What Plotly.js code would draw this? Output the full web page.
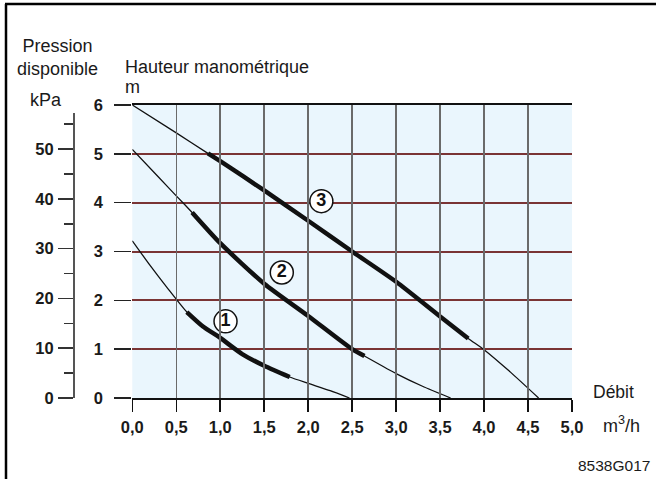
<!DOCTYPE html>
<html><head><meta charset="utf-8">
<script src="https://cdn.plot.ly/plotly-3.0.1.min.js"></script>
<style>html,body{margin:0;padding:0;background:#fff}#chart{width:656px;height:479px}</style>
</head><body><div id="chart"></div>
<script>
// ---- data ----
const curve1X = [0, 0.2, 0.4, 0.62, 0.8, 1.0, 1.25, 1.5, 1.79, 2.0, 2.25, 2.47];
const curve1Y = [3.22, 2.72, 2.25, 1.76, 1.47, 1.23, 0.9, 0.66, 0.43, 0.3, 0.15, 0];
const curve1Range = [0.62, 1.79];

const curve2X = [0, 0.3, 0.5, 0.68, 1.0, 1.5, 2.0, 2.5, 2.64, 3.0, 3.3, 3.62];
const curve2Y = [5.09, 4.52, 4.14, 3.8, 3.17, 2.34, 1.68, 1.0, 0.86, 0.5, 0.24, 0];
const curve2Range = [0.68, 2.64];

const curve3X = [0, 0.5, 0.86, 1.0, 1.5, 2.0, 2.5, 3.0, 3.5, 3.82, 4.0, 4.3, 4.62];
const curve3Y = [6.0, 5.43, 5.01, 4.85, 4.25, 3.63, 3.0, 2.38, 1.67, 1.22, 0.99, 0.53, 0];
const curve3Range = [0.86, 3.82];

const curveNames = ['1', '2', '3'];
const labelX = [1.06, 1.70, 2.15];
const labelY = [1.57, 2.57, 4.03];

const xTickVals = [0, 0.5, 1, 1.5, 2, 2.5, 3, 3.5, 4, 4.5, 5];
const mTickVals = [0, 1, 2, 3, 4, 5, 6];
const kPaTickVals = [0, 10, 20, 30, 40, 50];

// ---- build ----
const F = 'Liberation Sans, Arial, Helvetica, sans-serif';
const curves = [[curve1X, curve1Y, curve1Range], [curve2X, curve2Y, curve2Range], [curve3X, curve3Y, curve3Range]];
const traces = [];
curves.forEach(([cx, cy, rg]) => {
  traces.push({x: cx, y: cy, type: 'scatter', mode: 'lines', line: {color: '#111', width: 1.3, shape: 'spline', smoothing: 0.6}, hoverinfo: 'skip'});
  const tx = [], ty = [];
  cx.forEach((v, i) => { if (v >= rg[0] - 1e-9 && v <= rg[1] + 1e-9) { tx.push(v); ty.push(cy[i]); } });
  traces.push({x: tx, y: ty, type: 'scatter', mode: 'lines', line: {color: '#111', width: 4.5, shape: 'spline', smoothing: 0.6}, hoverinfo: 'skip'});
});
traces.push({x: labelX, y: labelY, text: curveNames, type: 'scatter', mode: 'markers+text', textposition: 'middle center',
  marker: {symbol: 'circle', size: 23, color: '#fff', line: {color: '#111', width: 1.5}},
  textfont: {family: F, size: 18, weight: 'bold', color: '#111'}, hoverinfo: 'skip'});
// placeholder trace so the kPa axis is drawn
traces.push({x: [0], y: [0], yaxis: 'y2', type: 'scatter', mode: 'markers', marker: {size: 0.1, opacity: 0}, hoverinfo: 'skip'});

const tickFont = {family: F, size: 16.5, weight: 'bold', color: '#1a1a1a'};
const L = 20, R = 84, T = 105, B = 81, W = 656, H = 479;
const pw = W - L - R, ph = H - T - B;
const px = v => (v - L) / pw;
const py = v => (H - B - v) / ph;

const layout = {
  width: W, height: H,
  margin: {l: L, r: R, t: T, b: B, pad: 0},
  paper_bgcolor: '#fff', plot_bgcolor: 'rgba(0,0,0,0)',
  separators: ', ',
  showlegend: false,
  font: {family: F, color: '#1a1a1a'},
  xaxis: {domain: [px(132.3), 1], range: [0, 5], tickvals: xTickVals, tickformat: '.1f',
    showgrid: true, gridcolor: '#6a6a6a', gridwidth: 1.5, zeroline: false,
    showline: true, linecolor: '#111', linewidth: 2, mirror: true,
    ticks: 'outside', ticklen: 12, tickwidth: 1.5, tickcolor: '#111',
    tickfont: tickFont, ticklabelstandoff: 1, fixedrange: true},
  yaxis: {range: [0, 6], tickvals: mTickVals, showgrid: true, gridcolor: '#7a3434', gridwidth: 2,
    zeroline: false, showline: false,
    ticks: 'outside', ticklen: 17, tickwidth: 1.5, tickcolor: '#222',
    tickfont: tickFont, ticklabelstandoff: 8, fixedrange: true},
  yaxis2: {domain: [0, py(113.3)], range: [0, 9.81 * 6 * py(113.3)], anchor: 'free', position: px(73), side: 'left',
    tick0: 0, dtick: 10, showgrid: false, zeroline: false,
    showline: true, linecolor: '#555', linewidth: 1.5,
    ticks: 'outside', ticklen: 15, tickwidth: 1.5, tickcolor: '#333',
    minor: {tick0: 0, dtick: 5, ticks: 'outside', ticklen: 9, tickwidth: 1.5, tickcolor: '#333', showgrid: false},
    tickfont: tickFont, ticklabelstandoff: 1, fixedrange: true},
  shapes: [
    {type: 'rect', xref: 'x domain', yref: 'y domain', x0: 0, x1: 1, y0: 0, y1: 1, fillcolor: '#eaf6fd', line: {width: 0}, layer: 'below'},
    {type: 'line', xref: 'paper', yref: 'paper', x0: px(5), x1: px(660), y0: py(4), y1: py(4), line: {color: '#000', width: 2.5}},
    {type: 'line', xref: 'paper', yref: 'paper', x0: px(6), x1: px(6), y0: py(4), y1: py(482), line: {color: '#000', width: 2.5}}
  ],
  annotations: [
    {text: 'Pression<br>disponible', xref: 'paper', yref: 'paper', x: px(57.5), y: py(57), xanchor: 'center', yanchor: 'middle', showarrow: false, font: {family: F, size: 18, color: '#1a1a1a'}},
    {text: 'Hauteur manométrique', xref: 'paper', yref: 'paper', x: px(123), y: py(67), xanchor: 'left', yanchor: 'middle', showarrow: false, font: {family: F, size: 18, color: '#1a1a1a'}},
    {text: 'm', xref: 'paper', yref: 'paper', x: px(123), y: py(87), xanchor: 'left', yanchor: 'middle', showarrow: false, font: {family: F, size: 18, color: '#1a1a1a'}},
    {text: 'kPa', xref: 'paper', yref: 'paper', x: px(46), y: py(100), xanchor: 'center', yanchor: 'middle', showarrow: false, font: {family: F, size: 18, color: '#1a1a1a'}},
    {text: 'Débit', xref: 'paper', yref: 'paper', x: px(614), y: py(392), xanchor: 'center', yanchor: 'middle', showarrow: false, font: {family: F, size: 17.5, color: '#1a1a1a'}},
    {text: 'm<sup>3</sup>/h', xref: 'paper', yref: 'paper', x: px(621), y: py(424), xanchor: 'center', yanchor: 'middle', showarrow: false, font: {family: F, size: 18, color: '#1a1a1a'}},
    {text: '8538G017', xref: 'paper', yref: 'paper', x: px(614), y: py(466), xanchor: 'center', yanchor: 'middle', showarrow: false, font: {family: F, size: 15.5, color: '#1a1a1a'}}
  ]
};
Plotly.newPlot('chart', traces, layout, {staticPlot: true, displayModeBar: false});
</script></body></html>
